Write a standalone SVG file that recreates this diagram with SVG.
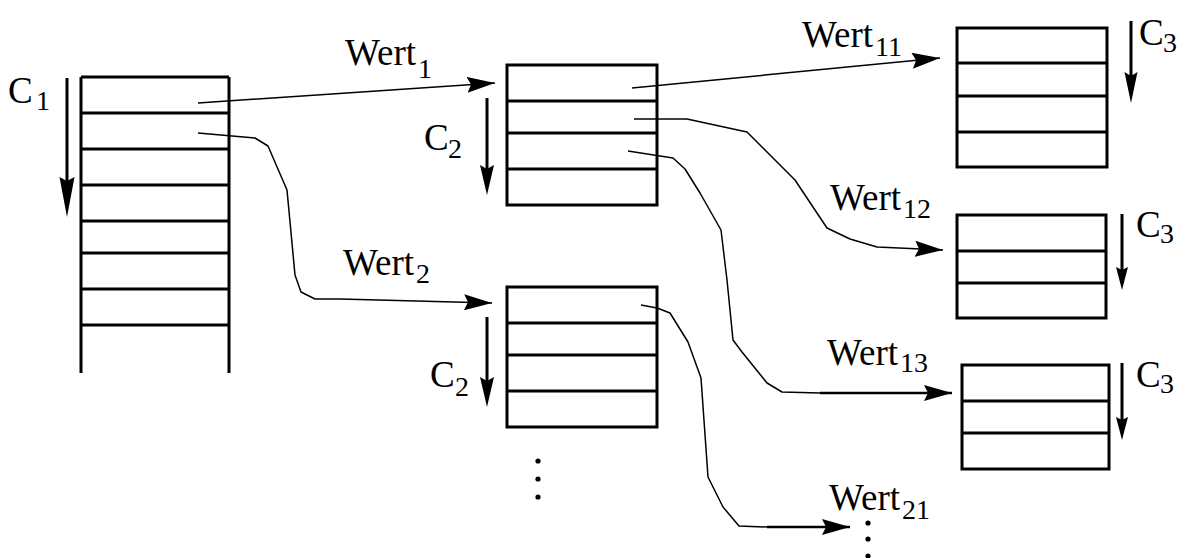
<svg xmlns="http://www.w3.org/2000/svg" width="1186" height="558" viewBox="0 0 1186 558">
  <style>
    .tbl { fill: none; stroke: #000; stroke-width: 3; }
    .conn { fill: none; stroke: #000; stroke-width: 1.5; stroke-linejoin: round; }
    .thick { fill: none; stroke: #000; stroke-width: 2.5; }
    .dir { stroke: #000; stroke-width: 3; }
    .head { fill: #000; stroke: none; }
    .lbl { font-family: "Liberation Serif", "Times New Roman", serif; font-size: 37px; fill: #000; }
    .sub { font-size: 28px; }
    .dot { fill: #000; }
  </style>
  <defs>
    <marker id="arr" viewBox="0 0 28 16" refX="28" refY="8" markerWidth="28" markerHeight="16" markerUnits="userSpaceOnUse" orient="auto">
      <path d="M0,0 L28,8 L0,16 L4,8 Z" fill="#000"/>
    </marker>
  </defs>

  <rect width="1186" height="558" fill="#fff"/>

  <!-- Table C1 -->
  <g id="table-c1">
    <path class="tbl" d="M81,77 V373 M229,77 V373 M81,77 H229 M81,113 H229 M81,149 H229 M81,185 H229 M81,221 H229 M81,253 H229 M81,289 H229 M81,325 H229"/>
    <line class="dir" x1="67" y1="78" x2="67" y2="181"/>
    <polygon class="head" points="59.5,177 67,217 74.5,177 67,181"/>
    <text class="lbl" x="8" y="103">C<tspan class="sub" x="36" y="110">1</tspan></text>
  </g>

  <!-- Table C2 (Wert1) -->
  <g id="table-c2-wert1">
    <rect class="tbl" x="507" y="65" width="150" height="140"/>
    <path class="tbl" d="M507,101 H657 M507,133 H657 M507,169 H657"/>
    <line class="dir" x1="487" y1="98" x2="487" y2="169"/>
    <polygon class="head" points="480,165 487,195 494,165 487,169"/>
    <text class="lbl" x="424" y="150">C<tspan class="sub" x="448" y="158">2</tspan></text>
  </g>

  <!-- Table C2 (Wert2) -->
  <g id="table-c2-wert2">
    <rect class="tbl" x="507" y="287" width="150" height="140"/>
    <path class="tbl" d="M507,323 H657 M507,355 H657 M507,391 H657"/>
    <line class="dir" x1="487" y1="317" x2="487" y2="381"/>
    <polygon class="head" points="480,377 487,407 494,377 487,381"/>
    <text class="lbl" x="430" y="387">C<tspan class="sub" x="455" y="396">2</tspan></text>
    <circle class="dot" cx="538" cy="461" r="2.6"/>
    <circle class="dot" cx="538" cy="479" r="2.6"/>
    <circle class="dot" cx="538" cy="497" r="2.6"/>
  </g>

  <!-- Table C3 (Wert11) -->
  <g id="table-c3-wert11">
    <rect class="tbl" x="957" y="28" width="150" height="139"/>
    <path class="tbl" d="M957,63 H1107 M957,96 H1107 M957,132 H1107"/>
    <line class="dir" x1="1131" y1="21" x2="1131" y2="76"/>
    <polygon class="head" points="1124.5,72 1131,103 1137.5,72 1131,76"/>
    <text class="lbl" x="1139" y="45">C<tspan class="sub" x="1163" y="52">3</tspan></text>
  </g>

  <!-- Table C3 (Wert12) -->
  <g id="table-c3-wert12">
    <rect class="tbl" x="957" y="215" width="149" height="103"/>
    <path class="tbl" d="M957,251 H1106 M957,283 H1106"/>
    <line class="dir" x1="1122" y1="214" x2="1122" y2="270"/>
    <polygon class="head" points="1116,267 1122,290 1128,267 1122,270"/>
    <text class="lbl" x="1136" y="237">C<tspan class="sub" x="1160" y="243">3</tspan></text>
  </g>

  <!-- Table C3 (Wert13) -->
  <g id="table-c3-wert13">
    <rect class="tbl" x="962" y="365" width="147" height="104"/>
    <path class="tbl" d="M962,401 H1109 M962,433 H1109"/>
    <line class="dir" x1="1122" y1="363" x2="1122" y2="420"/>
    <polygon class="head" points="1116,417 1122,440 1128,417 1122,420"/>
    <text class="lbl" x="1136" y="387">C<tspan class="sub" x="1160" y="393">3</tspan></text>
  </g>

  <!-- Wert21 continuation -->
  <g id="wert21-continuation">
    <circle class="dot" cx="868" cy="523" r="2.6"/>
    <circle class="dot" cx="868" cy="539" r="2.6"/>
    <circle class="dot" cx="868" cy="556" r="2.6"/>
  </g>

  <!-- Connectors -->
  <g id="connectors">
    <line class="conn" x1="198" y1="103" x2="495" y2="83" marker-end="url(#arr)"/>
    <path class="conn" d="M198,133 L255,138 L268,146 L287,190 L295,275 L301,292 L315,299 L340,299 L492,303" marker-end="url(#arr)"/>
    <line class="conn" x1="632" y1="88" x2="940" y2="58" marker-end="url(#arr)"/>
    <path class="conn" d="M634,119 L687,119 L747,132 L795,180 L827,228 L850,239 L877,247 L943,250" marker-end="url(#arr)"/>
    <path class="conn" d="M628,151 L673,158 L685,169 L700,193 L721,230 L727,280 L733,340 L742,352 L767,383 L782,392 L820,393"/>
    <line class="thick" x1="820" y1="393" x2="952" y2="393" marker-end="url(#arr)"/>
    <path class="conn" d="M641,305 L657,308 L670,313 L688,342 L701,378 L708,477 L723,507 L739,526 L767,527"/>
    <line class="thick" x1="767" y1="527" x2="850" y2="527" marker-end="url(#arr)"/>
  </g>

  <!-- Connector labels -->
  <g id="labels">
    <text class="lbl" x="345" y="65">Wert<tspan class="sub" x="418" y="78">1</tspan></text>
    <text class="lbl" x="343" y="275">Wert<tspan class="sub" x="416" y="283">2</tspan></text>
    <text class="lbl" x="802" y="47">Wert<tspan class="sub" x="875" y="56">11</tspan></text>
    <text class="lbl" x="830" y="210">Wert<tspan class="sub" x="903" y="218">12</tspan></text>
    <text class="lbl" x="827" y="365">Wert<tspan class="sub" x="900" y="372">13</tspan></text>
    <text class="lbl" x="829" y="510">Wert<tspan class="sub" x="902" y="519">21</tspan></text>
  </g>
</svg>
